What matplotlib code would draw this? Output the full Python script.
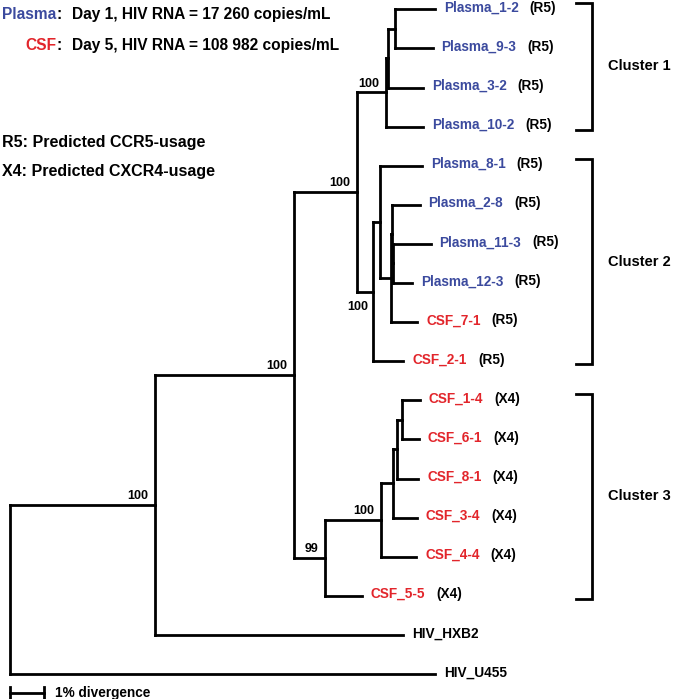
import matplotlib
matplotlib.use("Agg")
import matplotlib.pyplot as plt

# ---------------- data ----------------
leaves = ["Plasma_1-2", "Plasma_9-3", "Plasma_3-2", "Plasma_10-2", "Plasma_8-1",
          "Plasma_2-8", "Plasma_11-3", "Plasma_12-3", "CSF_7-1", "CSF_2-1",
          "CSF_1-4", "CSF_6-1", "CSF_8-1", "CSF_3-4", "CSF_4-4", "CSF_5-5",
          "HIV_HXB2", "HIV_U455"]
# cumulative divergence (%) from root to each tip
leaf_depth = [12.39, 12.32, 12.04, 12.03, 12.00, 11.94, 12.26, 11.71, 11.87, 11.47,
              11.94, 11.92, 11.90, 11.86, 11.84, 10.25, 11.47, 12.39]
coreceptor = ["R5"] * 10 + ["X4"] * 6 + ["", ""]

node_names = ["root", "n1", "n2", "n3", "c1", "c1a", "c1b", "c2", "c2a", "c2b",
              "c2c", "c2d", "c3", "c3a", "c3b", "c3c", "c3d"]
node_depth = [0.0, 4.23, 8.28, 10.12, 10.95, 11.02, 11.22, 10.58, 10.79, 11.11,
              11.13, 11.17, 9.18, 10.81, 11.17, 11.29, 11.43]
node_children = [["n1", "HIV_U455"], ["n2", "HIV_HXB2"], ["n3", "c3"], ["c1", "c2"],
                 ["c1a", "Plasma_10-2"], ["c1b", "Plasma_3-2"], ["Plasma_1-2", "Plasma_9-3"],
                 ["c2a", "CSF_2-1"], ["Plasma_8-1", "c2b"], ["c2c", "CSF_7-1"],
                 ["Plasma_2-8", "c2d"], ["Plasma_11-3", "Plasma_12-3"],
                 ["c3a", "CSF_5-5"], ["c3b", "CSF_4-4"], ["c3c", "CSF_3-4"],
                 ["c3d", "CSF_8-1"], ["CSF_1-4", "CSF_6-1"]]
bootstrap_nodes = ["n1", "n2", "n3", "c1", "c2", "c3", "c3a"]
bootstrap_values = [100, 100, 100, 100, 100, 99, 100]

clusters = ["Cluster 1", "Cluster 2", "Cluster 3"]
cluster_first = ["Plasma_1-2", "Plasma_8-1", "CSF_1-4"]
cluster_last = ["Plasma_10-2", "CSF_2-1", "CSF_5-5"]

scale_bar_pct = 1.0

# ---------------- styling ----------------
BLUE = "#3b4a9e"
RED = "#e2252b"
FONT = "Liberation Sans"
W, H = 679, 699
PX_PER_PCT = 34.3
X0_PX = 10.0
LEAF_Y0, LEAF_DY = 9.3, 39.1
LW = 2.0

plt.rcParams["font.family"] = [FONT, "DejaVu Sans"]
plt.rcParams["font.weight"] = "bold"

fig = plt.figure(figsize=(W / 100, H / 100), dpi=100)
ax = fig.add_axes([0, 0, 1, 1])
ax.axis("off")
ax.set_xlim(-X0_PX / PX_PER_PCT, (W - X0_PX) / PX_PER_PCT)
ax.set_ylim((H - LEAF_Y0) / LEAF_DY, -LEAF_Y0 / LEAF_DY)


def fx(px):
    return px / W


def fy(py):
    return 1 - py / H


# ---------------- tree layout ----------------
depth = dict(zip(leaves, leaf_depth))
depth.update(dict(zip(node_names, node_depth)))
children = dict(zip(node_names, node_children))
ypos = {n: i for i, n in enumerate(leaves)}


def gety(n):
    if n not in ypos:
        ys = [gety(c) for c in children[n]]
        ypos[n] = (min(ys) + max(ys)) / 2
    return ypos[n]


gety("root")

line_kw = dict(color="black", lw=LW, solid_capstyle="projecting")
for n in node_names:
    ys = [ypos[c] for c in children[n]]
    ax.plot([depth[n], depth[n]], [min(ys), max(ys)], **line_kw)
    for c in children[n]:
        ax.plot([depth[n], depth[c]], [ypos[c], ypos[c]], **line_kw)

# leaf labels
for name, tag in zip(leaves, coreceptor):
    if name.startswith("Plasma"):
        col = BLUE
    elif name.startswith("CSF"):
        col = RED
    else:
        col = "black"
    t = ax.annotate(name, xy=(depth[name], ypos[name]), xytext=(6.5, -1.7),
                    textcoords="offset points", ha="left", va="baseline",
                    color=col, fontsize=9.8, fontweight="bold")
    if tag:
        ax.annotate(f"({tag})", xy=(1, 0), xycoords=t, xytext=(8, 0),
                    textcoords="offset points", ha="left", va="bottom",
                    color="black", fontsize=9.8, fontweight="bold")

# bootstrap values
for n, b in zip(bootstrap_nodes, bootstrap_values):
    off = (-3.5, -13.2) if n == "c2" else (-4.7, 4.1)
    ax.annotate(str(b), xy=(depth[n], ypos[n]), xytext=off,
                textcoords="offset points", ha="right", va="baseline",
                fontsize=9, fontweight="bold")

# cluster brackets
bx0 = (576 - X0_PX) / PX_PER_PCT
bx1 = (591.5 - X0_PX) / PX_PER_PCT
lx = (608 - X0_PX) / PX_PER_PCT
for lab, a, b in zip(clusters, cluster_first, cluster_last):
    y0 = ypos[a] - 0.16
    y1 = ypos[b] + 0.08
    ax.plot([bx0, bx1, bx1, bx0], [y0, y0, y1, y1], color="black", lw=LW,
            solid_joinstyle="miter")
    ax.text(lx, (y0 + y1) / 2, lab, ha="left", va="center", fontsize=10.5,
            fontweight="bold")

# scale bar
yb = (692.5 - LEAF_Y0) / LEAF_DY
tick = 0.13
ax.plot([0, scale_bar_pct], [yb, yb], color="black", lw=LW)
ax.plot([0, 0], [yb - tick, yb + tick], color="black", lw=LW)
ax.plot([scale_bar_pct, scale_bar_pct], [yb - tick, yb + tick], color="black", lw=LW)
ax.text((55 - X0_PX) / PX_PER_PCT, yb, "1% divergence", ha="left", va="center",
        fontsize=9.8, fontweight="bold")

# legend text (top-left)
LFS = 11.2
ax.text(fx(56), fy(19), "Plasma", transform=ax.transAxes, ha="right", va="baseline",
        color=BLUE, fontsize=LFS, fontweight="bold")
ax.text(fx(56.5), fy(19), ":", transform=ax.transAxes, ha="left", va="baseline",
        fontsize=LFS, fontweight="bold")
ax.text(fx(71.7), fy(19), "Day 1, HIV RNA = 17 260 copies/mL", transform=ax.transAxes,
        ha="left", va="baseline", fontsize=LFS, fontweight="bold")
ax.text(fx(56), fy(50), "CSF", transform=ax.transAxes, ha="right", va="baseline",
        color=RED, fontsize=LFS, fontweight="bold")
ax.text(fx(56.5), fy(50), ":", transform=ax.transAxes, ha="left", va="baseline",
        fontsize=LFS, fontweight="bold")
ax.text(fx(71.7), fy(50), "Day 5, HIV RNA = 108 982 copies/mL", transform=ax.transAxes,
        ha="left", va="baseline", fontsize=LFS, fontweight="bold")
ax.text(fx(2), fy(146.7), "R5: Predicted CCR5-usage", transform=ax.transAxes,
        ha="left", va="baseline", fontsize=11.5, fontweight="bold")
ax.text(fx(2), fy(175.7), "X4: Predicted CXCR4-usage", transform=ax.transAxes,
        ha="left", va="baseline", fontsize=11.5, fontweight="bold")

fig.savefig("out.png", dpi=100)
